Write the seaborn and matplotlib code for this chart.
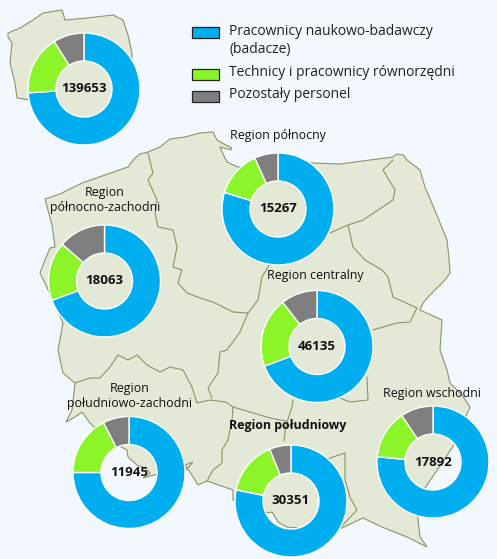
import matplotlib
matplotlib.use("Agg")
import matplotlib.pyplot as plt
from matplotlib.patches import Rectangle
import seaborn as sns

W, H = 497, 559

# shares of personnel in percent
regions = ["", "Region\npółnocno-zachodni", "Region północny", "Region centralny",
           "Region\npołudniowo-zachodni", "Region południowy", "Region wschodni"]
totals = [139653, 18063, 15267, 46135, 11945, 30351, 17892]
badacze = [73.9, 69.4, 79.8, 69.3, 75.0, 78.2, 76.5]
technicy = [17.2, 17.0, 13.4, 20.2, 17.5, 15.6, 14.1]
pozostali = [8.9, 13.6, 6.8, 10.5, 7.5, 6.2, 9.4]
legend_labels = ["Pracownicy naukowo-badawczy\n(badacze)", "Technicy i pracownicy równorzędni", "Pozostały personel"]

# layout in image pixels
centers = [(84, 89), (104.5, 281), (278, 209), (317, 346.5), (129, 472.5), (291, 501), (433, 462)]
label_pos = [None, (105, 200), (278, 136), (315, 276), (129.5, 396), (288, 426), (432, 393)]
legend_rows = [32, 74, 96]
legend_text_top = [24, 65, 87]
radius, ring = 56, 28

colors = sns.color_palette(["#00aeef", "#8cf52a", "#7f7f7f"])
bg = "#f2f8fe"
land = "#e4e8d6"
edge = "#8a9468"

# background map
poland = [(45,199),(60,194),(82,183),(105,175),(128,167),(135,158),(140,154),(148,152),(160,147),(170,139),
          (185,137),(200,133),(213,132),(217,140),(224,144),(232,148),(231,150),(220,147),(224,156),(227,162),
          (238,167),(260,165),(312,163),(340,164),(370,160),(393,157),(397,154),(403,155),(407,160),(420,170),
          (425,187),(436,213),(447,240),(449,258),(450,273),(445,280),(430,295),(423,303),(420,310),(442,320),
          (441,335),(440,350),(447,370),(450,383),(462,395),(470,407),(460,430),(454,445),(425,488),(418,505),
          (418,520),(420,537),(427,547),(407,537),(382,527),(363,518),(342,528),(320,530),(287,527),(278,522),
          (272,512),(268,513),(250,505),(233,500),(233,490),(207,481),(198,485),(190,472),(185,465),(193,462),
          (186,470),(170,474),(158,474),(143,478),(150,473),(145,468),(137,465),(128,457),(127,450),(108,440),
          (95,428),(90,423),(82,412),(75,417),(66,422),(72,410),(75,383),(63,373),(58,350),(63,323),(53,300),
          (40,273),(45,260),(50,248),(55,247),(52,225),(45,199)]
inset = [(8,33),(20,28),(33,20),(43,13),(62,10),(65,20),(87,18),(113,15),(123,20),(128,35),(132,53),(130,110),
         (84,130),(40,115),(30,100),(17,98),(15,83),(10,63),(12,43),(8,37),(8,33)]
borders = [
    [(148,153),(153,173),(148,180),(157,200),(155,213),(158,227),(173,230),(177,247),(173,267),(182,270),
     (178,283),(187,293),(200,298),(213,302),(233,312),(248,313),(258,300),(262,277),(268,267),(280,240)],
    [(330,233),(348,225),(363,220),(393,200),(395,190),(383,170),(393,160)],
    [(348,225),(353,247),(365,260),(382,270),(388,277),(393,297),(417,308),(410,322),(397,323),(373,330)],
    [(367,377),(368,400),(350,402),(340,398)],
    [(293,400),(292,407),(286,425),(284,441)],
    [(286,421),(270,418),(250,412),(233,407),(226,402),(210,400),(197,403),(192,387),
     (183,370),(170,367),(160,372),(147,365),(137,355),(128,360),(118,355),(110,367),(100,378),(90,378),(75,383)],
    [(248,313),(240,332),(227,350),(220,352),(218,373),(208,388),(212,398)],
    [(233,407),(232,420),(228,440),(222,450),(222,463),(213,470),(207,481)],
    [(325,460),(333,457),(345,453),(345,480),(350,497),(357,510),(340,528)],
]


def flip(pts):
    return [p[0] for p in pts], [H - p[1] for p in pts]


sns.set_style("white")
plt.rcParams["font.family"] = ["Open Sans", "DejaVu Sans"]

fig = plt.figure(figsize=(W / 100, H / 100), dpi=100, facecolor=bg)
ax = fig.add_axes([0, 0, 1, 1])
ax.set_facecolor(bg)

for shape in [poland, inset]:
    xs, ys = flip(shape)
    ax.fill(xs, ys, facecolor=land, edgecolor=edge, linewidth=0.8, zorder=1)
for line in borders:
    xs, ys = flip(line)
    ax.plot(xs, ys, color=edge, linewidth=0.8, zorder=2)

for i, (cx, cy) in enumerate(centers):
    ax.pie([badacze[i], technicy[i], pozostali[i]], colors=colors, center=(cx, H - cy), radius=radius,
           startangle=90, counterclock=False, frame=True,
           wedgeprops={"width": ring, "edgecolor": "white", "linewidth": 1.0, "zorder": 3})
    ax.text(cx, H - cy, str(totals[i]), ha="center", va="center", fontsize=9.5, fontweight="bold",
            color="#111111", zorder=5)
    if label_pos[i]:
        ax.text(label_pos[i][0], H - label_pos[i][1], regions[i], ha="center", va="center", fontsize=8.9,
                color="#111111", linespacing=1.22, fontweight="bold" if i == 5 else "normal", zorder=5)

for row, top, lab, c in zip(legend_rows, legend_text_top, legend_labels, colors):
    ax.add_patch(Rectangle((191.5, H - row - 5.5), 27, 11, facecolor=c, edgecolor="#222222", linewidth=0.9, zorder=4))
    ax.text(229, H - top, lab, ha="left", va="top", fontsize=10, color="#222222", linespacing=1.3, zorder=5)

ax.set_xlim(0, W)
ax.set_ylim(0, H)
ax.set_aspect("equal")
ax.axis("off")

fig.savefig("out.png", dpi=100, facecolor=bg)
